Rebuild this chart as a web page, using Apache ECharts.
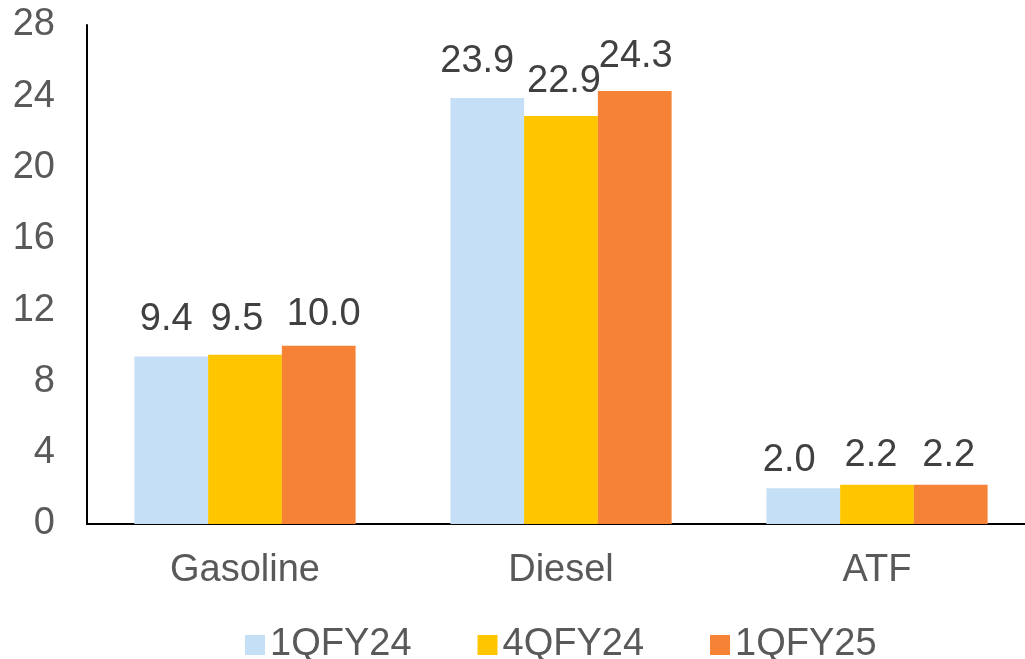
<!DOCTYPE html>
<html>
<head>
<meta charset="utf-8">
<script src="https://cdn.jsdelivr.net/npm/echarts@6/dist/echarts.min.js"></script>
<style>
html,body{margin:0;padding:0;background:#fff;}
#chart{width:1025px;height:659px;}
</style>
</head>
<body>
<div id="chart"></div>
<script>
const categories = ['Gasoline', 'Diesel', 'ATF'];
const seriesNames = ['1QFY24', '4QFY24', '1QFY25'];
const q1fy24 = [9.4, 23.9, 2.0];
const q4fy24 = [9.5, 22.9, 2.2];
const q1fy25 = [10.0, 24.3, 2.2];
const colors = ['#C5DFF6', '#FFC600', '#F58235'];

// small manual label nudges [dx, dy] per series, per category (as in the original)
const labelNudge = [
  [[-5, -2], [-10, -2], [-14, 7]],
  [[-8, 0], [3, 1], [-6, 6]],
  [[5, 4], [1, 1], [-2, 6]]
];

const font = 'Liberation Sans, Arial, sans-serif';
const values = [q1fy24, q4fy24, q1fy25];

const chart = echarts.init(document.getElementById('chart'), null, {renderer: 'canvas'});
chart.setOption({
  animation: false,
  backgroundColor: '#fff',
  color: colors,
  grid: {left: 87, width: 948, top: 25, bottom: 135, containLabel: false, outerBoundsMode: 'none'},
  legend: {
    data: seriesNames,
    left: 245,
    top: 626,
    padding: 0,
    icon: 'rect',
    itemWidth: 20,
    itemHeight: 20,
    itemGap: 66,
    textStyle: {fontFamily: font, fontSize: 38, color: '#595959'}
  },
  xAxis: {
    type: 'category',
    data: categories,
    axisLine: {lineStyle: {color: '#000', width: 2}},
    axisTick: {show: false},
    axisLabel: {fontFamily: font, fontSize: 38, color: '#595959', margin: 28}
  },
  yAxis: {
    type: 'value',
    min: 0,
    max: 28,
    interval: 4,
    axisLine: {show: true, lineStyle: {color: '#000', width: 2}},
    axisTick: {show: false},
    splitLine: {show: false},
    axisLabel: {fontFamily: font, fontSize: 38, color: '#595959', margin: 32}
  },
  series: seriesNames.map((name, i) => ({
    name: name,
    type: 'bar',
    data: values[i].map((v, j) => ({value: v, label: {offset: labelNudge[i][j]}})),
    barGap: '0%',
    barCategoryGap: '30%',
    itemStyle: {color: colors[i]},
    label: {
      show: true,
      position: 'top',
      distance: 16,
      formatter: p => p.value.toFixed(1),
      fontFamily: font,
      fontSize: 38,
      color: '#404040'
    }
  }))
});
</script>
</body>
</html>
